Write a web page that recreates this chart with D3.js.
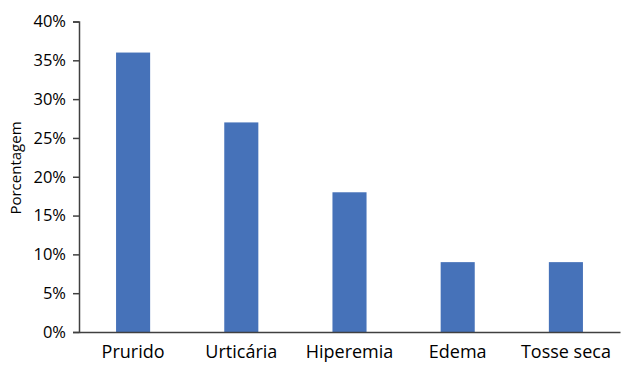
<!DOCTYPE html>
<html>
<head>
<meta charset="utf-8">
<script src="https://cdn.jsdelivr.net/npm/d3@7"></script>
<style>
  body { margin: 0; background: #fff; }
  text { font-family: "Open Sans", "DejaVu Sans", sans-serif; fill: #000; }
</style>
</head>
<body>
<svg id="chart" width="622" height="367"></svg>
<script>
// Sintomas relatados e porcentagem de ocorrência
const categories = ["Prurido", "Urticária", "Hiperemia", "Edema", "Tosse seca"];
const values = [0.36, 0.27, 0.18, 0.09, 0.09];
const yTicks = [0, 0.05, 0.10, 0.15, 0.20, 0.25, 0.30, 0.35, 0.40];

const svg = d3.select("#chart");
const margin = { left: 79, right: 2, top: 21.5, bottom: 35 };
const W = 622, H = 367;

const x = d3.scaleBand()
  .domain(categories)
  .range([margin.left, W - margin.right])
  .paddingInner(0.685)
  .paddingOuter(0.3425);

const y = d3.scaleLinear()
  .domain([0, 0.40])
  .range([H - margin.bottom, margin.top]);

// barras
svg.append("g")
  .selectAll("rect")
  .data(values)
  .join("rect")
  .attr("x", (d, i) => x(categories[i]))
  .attr("width", x.bandwidth())
  .attr("y", d => y(d))
  .attr("height", d => y(0) - y(d))
  .attr("fill", "#4672B9");

// eixo Y
const yAxis = svg.append("g")
  .attr("transform", `translate(${margin.left},0)`)
  .call(d3.axisLeft(y).tickValues(yTicks).tickFormat(d3.format(".0%")).tickSize(6).tickPadding(7));
yAxis.attr("font-family", null);
yAxis.select(".domain").attr("stroke", "#404040").attr("stroke-width", 1.5);
yAxis.selectAll(".tick line").attr("stroke", "#404040").attr("stroke-width", 1.5);
yAxis.selectAll(".tick text").style("font-size", "16.5px").attr("fill", "#000");

// eixo X
const xAxis = svg.append("g")
  .attr("transform", `translate(0,${y(0)})`)
  .call(d3.axisBottom(x).tickSize(0).tickSizeOuter(0));
xAxis.attr("font-family", null);
xAxis.select(".domain").attr("stroke", "#404040").attr("stroke-width", 1.5);
xAxis.selectAll(".tick text")
  .attr("y", 26).attr("dy", 0)
  .style("font-size", "18px").attr("fill", "#000");

// rótulo do eixo Y
svg.append("text")
  .attr("transform", `translate(21,168) rotate(-90)`)
  .attr("text-anchor", "middle")
  .style("font-size", "15px")
  .text("Porcentagem");
</script>
</body>
</html>
